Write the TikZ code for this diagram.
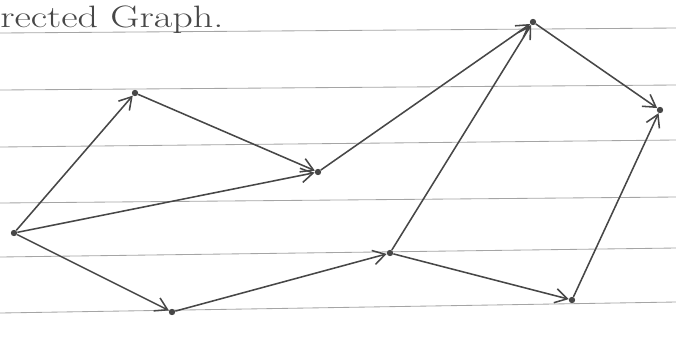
\documentclass[tikz,border=0pt]{standalone}
\usetikzlibrary{arrows.meta}
\begin{document}
\begin{tikzpicture}[x=0.025cm,y=-0.025cm]
  \definecolor{pencil}{HTML}{474747}
  \definecolor{ruling}{HTML}{A5A5A5}
  \useasboundingbox (0,0) rectangle (676,338);
  % ruled lines of the notebook page
  \foreach \yl/\yr in {33/28,90/85,147/140,203/197,257/248,313/302}
    \draw[ruling,line width=.6pt] (0,\yl) -- (676,\yr);

  \node[anchor=base west,inner sep=0pt,text=pencil,font=\fontsize{22}{26}\selectfont] (title) at (0,27) {\scalebox{1.3}[1]{rected Graph.}};

  \tikzset{vertex/.style={circle,fill=pencil,inner sep=1.6pt},
    arc/.style={draw=pencil,line width=1.1pt,-{Straight Barb[length=3mm,width=3.6mm]}}}
  \node[vertex] (a) at (14,233) {};
  \node[vertex] (b) at (135,93) {};
  \node[vertex] (c) at (318,172) {};
  \node[vertex] (d) at (533,22) {};
  \node[vertex] (e) at (660,110) {};
  \node[vertex] (f) at (172,312) {};
  \node[vertex] (g) at (390,253) {};
  \node[vertex] (h) at (572,300) {};

  \draw[arc] (a) -- (b);
  \draw[arc] (a) -- (c);
  \draw[arc] (b) -- (c);
  \draw[arc] (c) -- (d);
  \draw[arc] (g) -- (d);
  \draw[arc] (d) -- (e);
  \draw[arc] (a) -- (f);
  \draw[arc] (f) -- (g);
  \draw[arc] (g) -- (h);
  \draw[arc] (h) -- (e);
\end{tikzpicture}
\end{document}
